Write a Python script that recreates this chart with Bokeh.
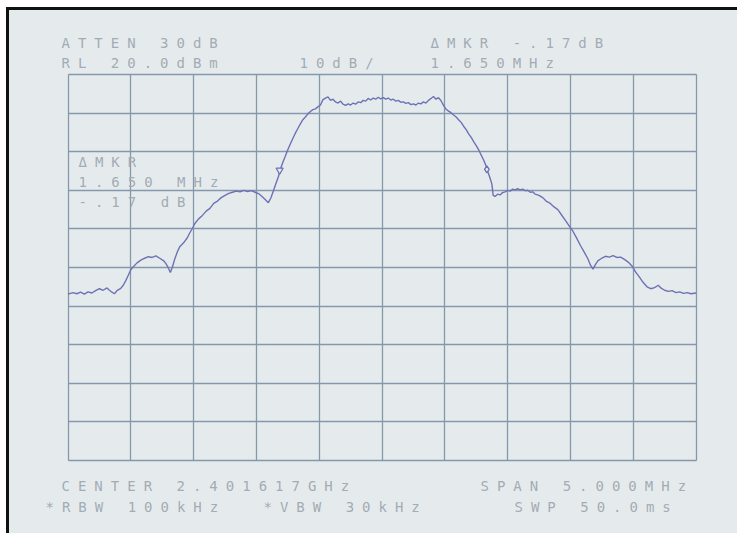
from bokeh.plotting import figure
from bokeh.models import Label, Grid, FixedTicker, Range1d
from bokeh.embed import file_html
from bokeh.resources import INLINE

# ---------------- data ----------------
# frequency offset from center (MHz), span 5 MHz
freq_mhz = [
    -2.50, -2.46, -2.43, -2.40, -2.37, -2.34, -2.31, -2.28, -2.25, -2.22,
    -2.19, -2.17, -2.15, -2.13, -2.11, -2.08, -2.06, -2.04, -2.02, -2.00,
    -1.98, -1.95, -1.92, -1.89, -1.86, -1.83, -1.80, -1.77, -1.74, -1.72,
    -1.70, -1.685, -1.67, -1.65, -1.63, -1.61, -1.58, -1.55, -1.53, -1.51,
    -1.49, -1.46, -1.43, -1.40, -1.37, -1.34, -1.31, -1.28, -1.25, -1.22,
    -1.19, -1.16, -1.13, -1.10, -1.07, -1.04, -1.01, -0.98, -0.955, -0.93,
    -0.905, -0.885, -0.865, -0.845, -0.825, -0.81, -0.79, -0.77, -0.75, -0.73,
    -0.71, -0.69, -0.67, -0.65, -0.63, -0.61, -0.59, -0.57, -0.55, -0.53,
    -0.51, -0.49, -0.47, -0.45, -0.43, -0.41, -0.39, -0.37, -0.35, -0.33,
    -0.31, -0.29, -0.27, -0.25, -0.23, -0.21, -0.19, -0.17, -0.15, -0.13,
    -0.11, -0.09, -0.07, -0.05, -0.03, -0.01, 0.01, 0.03, 0.05, 0.07,
    0.09, 0.11, 0.13, 0.15, 0.17, 0.19, 0.21, 0.23, 0.25, 0.27,
    0.29, 0.31, 0.33, 0.35, 0.37, 0.39, 0.41, 0.43, 0.45, 0.47,
    0.49, 0.51, 0.53, 0.55, 0.57, 0.59, 0.61, 0.63, 0.65, 0.67,
    0.69, 0.71, 0.73, 0.75, 0.77, 0.79, 0.81, 0.83, 0.845, 0.86,
    0.875, 0.885, 0.90, 0.92, 0.94, 0.96, 0.98, 1.00, 1.02, 1.04,
    1.06, 1.08, 1.10, 1.12, 1.14, 1.16, 1.18, 1.20, 1.22, 1.25,
    1.28, 1.31, 1.34, 1.37, 1.40, 1.43, 1.46, 1.49, 1.52, 1.55,
    1.58, 1.61, 1.64, 1.66, 1.68, 1.70, 1.72, 1.75, 1.78, 1.81,
    1.84, 1.87, 1.90, 1.93, 1.96, 1.99, 2.02, 2.05, 2.08, 2.11,
    2.14, 2.17, 2.20, 2.22, 2.25, 2.28, 2.31, 2.34, 2.37, 2.40,
    2.43, 2.46, 2.50,
]
# level (dBm), reference level 20 dBm, 10 dB/div
level_dbm = [
    -36.9, -36.5, -36.8, -36.4, -36.9, -36.3, -36.6, -36.0, -35.5, -35.9,
    -35.3, -35.9, -36.4, -36.8, -36.0, -35.4, -34.6, -33.4, -32.0, -30.6,
    -29.8, -28.8, -28.1, -27.6, -27.2, -27.4, -27.0, -27.6, -28.2, -29.0,
    -30.2, -31.3, -30.0, -27.8, -26.0, -24.6, -23.6, -22.3, -21.0, -19.9,
    -18.6, -17.4, -16.5, -15.4, -14.7, -13.4, -12.8, -11.9, -11.3, -10.8,
    -10.5, -10.2, -10.4, -10.0, -10.3, -10.1, -10.5, -10.9, -11.6, -12.4,
    -13.2, -12.0, -10.2, -8.3, -6.5, -4.6, -2.8, -1.2, 0.5, 2.0,
    3.4, 4.8, 6.0, 7.2, 8.3, 9.0, 9.8, 10.4, 10.9, 11.1,
    11.6, 12.1, 13.5, 13.9, 14.2, 13.3, 13.6, 12.9, 12.6, 13.1,
    12.3, 12.0, 12.4, 12.1, 12.6, 12.3, 12.9, 12.7, 13.3, 13.1,
    13.8, 13.4, 13.9, 13.6, 14.1, 13.7, 14.0, 13.6, 13.9, 13.4,
    13.6, 13.1, 13.3, 12.8, 12.9, 12.5, 12.7, 12.2, 12.4, 12.1,
    12.6, 12.4, 12.9, 12.6, 13.3, 13.8, 14.3, 13.6, 14.0, 13.2,
    12.0, 11.0, 10.5, 10.1, 9.5, 9.0, 8.3, 7.6, 6.6, 5.7,
    4.6, 3.7, 2.6, 1.6, 0.5, -0.9, -2.2, -3.8, -5.4, -6.8,
    -8.4, -11.3, -11.6, -11.0, -11.2, -10.6, -10.4, -10.0, -10.2, -9.7,
    -9.9, -9.6, -9.9, -9.7, -10.1, -10.0, -10.5, -10.4, -11.0, -11.3,
    -11.9, -12.9, -13.4, -14.3, -15.0, -16.4, -17.8, -19.2, -20.6, -22.4,
    -24.3, -26.0, -27.8, -29.4, -30.4, -29.2, -28.2, -27.6, -27.1, -27.3,
    -26.9, -27.4, -27.3, -27.9, -28.6, -29.6, -31.2, -32.5, -33.9, -35.0,
    -35.5, -35.2, -34.6, -35.3, -35.9, -36.2, -36.0, -36.5, -36.3, -36.7,
    -36.5, -36.8, -36.6,
]
# delta-marker pair (1.650 MHz apart)
marker_freq = [-0.815, 0.835]
marker_level = [-4.8, -4.6]
marker_shape = ["inverted_triangle", "diamond"]

# graticule: 10 divisions each way
x_ticks = [-2.5, -2.0, -1.5, -1.0, -0.5, 0.0, 0.5, 1.0, 1.5, 2.0, 2.5]
y_ticks = [-80, -70, -60, -50, -40, -30, -20, -10, 0, 10, 20]

# annotation texts
header_texts = ["ATTEN 30dB", "RL 20.0dBm", "10dB/", "ΔMKR -.17dB", "1.650MHz"]
marker_texts = ["ΔMKR", "1.650 MHz", "-.17 dB"]
footer_texts = ["CENTER 2.401617GHz", "SPAN 5.000MHz",
                "*RBW 100kHz", "*VBW 30kHz", "SWP 50.0ms"]

# ---------------- layout / style ----------------
W, H = 737, 533
G_LEFT, G_RIGHT, G_TOP, G_BOTTOM = 67.5, 695.5, 74.0, 460.0   # graticule box (px)
PAPER = "#e5ebed"
GRID = "#8597ab"
TRACE = "#6e72b4"
INK = "#a3acb4"
FONT = "DejaVu Sans Mono"

x0, x1 = x_ticks[0], x_ticks[-1]
y0, y1 = y_ticks[0], y_ticks[-1]
kx = (x1 - x0) / (G_RIGHT - G_LEFT)
ky = (y1 - y0) / (G_BOTTOM - G_TOP)
x_range = Range1d(x0 - G_LEFT * kx, x1 + (W - G_RIGHT) * kx)
y_range = Range1d(y0 - (H - G_BOTTOM) * ky, y1 + G_TOP * ky)


def at(px, py):
    """screen pixel (from top-left) -> data coordinates, for text placement"""
    return x_range.start + px * kx, y_range.end - py * ky


header_px = [(61, 42), (61, 62), (299, 62), (430, 42), (430, 62)]
marker_px = [(78, 161), (78, 181), (78, 201)]
footer_px = [(61, 485), (480, 485), (45, 506), (263, 506), (514, 506)]

p = figure(width=W, height=H, x_range=x_range, y_range=y_range,
           x_axis_location=None, y_axis_location=None,
           output_backend="svg", toolbar_location=None,
           min_border=0)

# drop the default (full-canvas) grids; the graticule is added below
p.center = [r for r in p.center if not isinstance(r, Grid)]

p.background_fill_color = None
p.border_fill_color = None
p.outline_line_color = None
p.styles = {
    "background-color": PAPER,
    "letter-spacing": "8px",
    "box-shadow": "inset 6px 7px 0 0 #ffffff, inset 9px 10px 0 0 #111111",
}

xg = Grid(dimension=0, ticker=FixedTicker(ticks=x_ticks),
          bounds=(x0, x1), cross_bounds=(y0, y1),
          grid_line_color=GRID, grid_line_width=1.3)
yg = Grid(dimension=1, ticker=FixedTicker(ticks=y_ticks),
          bounds=(y0, y1), cross_bounds=(x0, x1),
          grid_line_color=GRID, grid_line_width=1.3)
p.add_layout(xg)
p.add_layout(yg)

p.line(freq_mhz, level_dbm, line_color=TRACE, line_width=1.4)
for f, l, m in zip(marker_freq, marker_level, marker_shape):
    p.scatter([f], [l], marker=m, size=7, line_color=TRACE, line_width=1.3,
              fill_color=PAPER)

for texts, pos in ((header_texts, header_px), (marker_texts, marker_px),
                   (footer_texts, footer_px)):
    for t, (px, py) in zip(texts, pos):
        x, y = at(px, py)
        p.add_layout(Label(x=x, y=y, text=t, text_font=FONT,
                           text_font_size="14px", text_color=INK,
                           text_align="left", text_baseline="middle"))

open("out.html", "w").write(file_html(p, INLINE))
